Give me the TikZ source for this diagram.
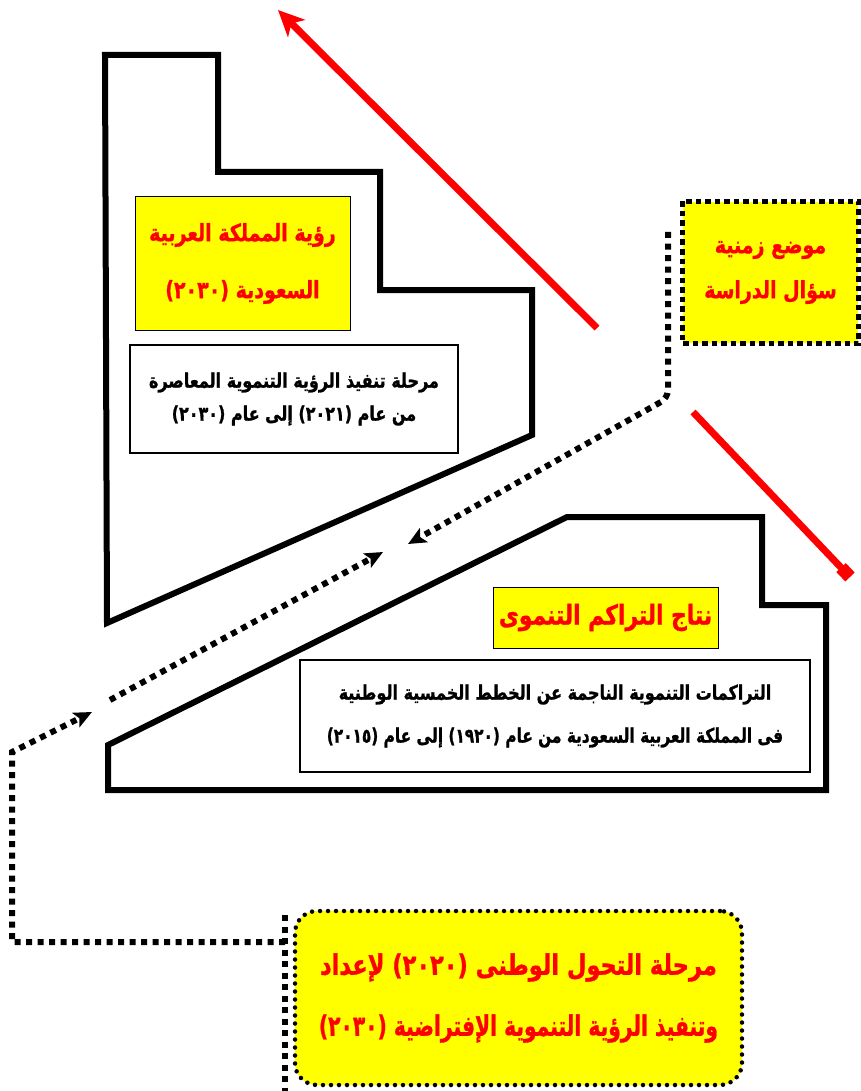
\documentclass[tikz,border=0pt]{standalone}
\usepackage{fontspec}
\usepackage{graphicx}
\usetikzlibrary{arrows.meta}
\newfontfamily\arabicfont[Script=Arabic, BoldFeatures={FakeBold=1.2}]{DejaVu Sans}
\TeXXeTstate=1
% one right-to-left line, set a little taller than the font's own shapes;
% the optional argument narrows a long line
\newcommand{\rtl}[2][1]{\scalebox{#1}[1.25]{\beginR #2\endR}}
\definecolor{boxyellow}{RGB}{255,255,0}
\definecolor{arrowred}{RGB}{255,0,0}

\begin{document}
\begin{tikzpicture}[x=1pt,y=-1pt,
  frame/.style={draw=black, line width=6pt, line join=miter},
  titlebox/.style={draw=black, line width=1pt, fill=boxyellow, text=arrowred,
    align=center, inner sep=0pt},
  notebox/.style={draw=black, line width=1.3pt, fill=white, text=black,
    align=center, inner sep=0pt},
  squaredots/.style={draw=black, line width=6pt, dash pattern=on 6pt off 5.5pt},
  tipblack/.style={-{Stealth[length=18pt,width=16pt,inset=4pt]}},
  redarrow/.style={draw=arrowred, line width=7pt},
]
\useasboundingbox (0,0) rectangle (861,1091);

% outline frames
\draw[frame] (105,55) -- (218,55) -- (218,172) -- (380,172) -- (380,290)
  -- (532,290) -- (532,435) -- (107,623) -- cycle;
\draw[frame] (108,745) -- (567,517) -- (762,517) -- (762,605) -- (826,605)
  -- (826,790) -- (108,790) -- cycle;

% upper block
\node[titlebox, minimum width=215pt, minimum height=133pt,
  font=\arabicfont\bfseries\fontsize{19}{57}\selectfont] (vision) at (242.5,263.5)
  {\rtl{رؤية المملكة العربية}\\\rtl{السعودية (٢٠٣٠)}};
\node[notebox, minimum width=328pt, minimum height=108pt,
  font=\arabicfont\bfseries\fontsize{16}{33}\selectfont] (visionnote) at (294,399)
  {\rtl{مرحلة تنفيذ الرؤية التنموية المعاصرة}\\\rtl{من عام (٢٠٢١) إلى عام (٢٠٣٠)}};

% question box
\node[titlebox, draw=none, minimum width=175pt, minimum height=141pt,
  font=\arabicfont\bfseries\fontsize{19}{45}\selectfont] (question) at (770.5,272.5)
  {\rtl{موضع زمنية}\\\rtl{سؤال الدراسة}};
\draw[squaredots, line width=5.5pt, dash pattern=on 5.5pt off 4pt]
  (question.north west) rectangle (question.south east);

% lower block
\node[titlebox, minimum width=225pt, minimum height=61pt,
  font=\arabicfont\bfseries\fontsize{21.8}{24}\selectfont] (accum) at (605.5,617.5)
  {\rtl{نتاج التراكم التنموى}};
\node[notebox, minimum width=510pt, minimum height=112pt,
  font=\arabicfont\bfseries\fontsize{16}{43}\selectfont] (accumnote) at (555,716)
  {\rtl{التراكمات التنموية الناجمة عن الخطط الخمسية الوطنية}\\\rtl[0.96]{فى المملكة العربية السعودية من عام (١٩٢٠) إلى عام (٢٠١٥)}};

% transition stage
\node[titlebox, draw=black, line width=4.5pt, line cap=round,
  dash pattern=on 0pt off 8pt, rounded corners=22pt,
  minimum width=447pt, minimum height=174pt,
  font=\arabicfont\bfseries\fontsize{22.5}{61}\selectfont] (transition) at (518.5,998)
  {\rtl{مرحلة التحول الوطنى (٢٠٢٠) لإعداد}\\\rtl[0.9]{وتنفيذ الرؤية التنموية الإفتراضية (٢٠٣٠)}};

% connector points
\coordinate (a0) at (285,915);
\coordinate (a1) at (285,1091);
\coordinate (l1) at (285,942);
\coordinate (l2) at (12,942);
\coordinate (l3) at (12,752);
\coordinate (l4) at (92,712);
\coordinate (b0) at (110,700);
\coordinate (b1) at (383,552);
\coordinate (c0) at (668,232);
\coordinate (c1) at (668,398);
\coordinate (c2) at (408,544);
\coordinate (r1s) at (597,328);
\coordinate (r1e) at (278,10);
\coordinate (r2s) at (693,412);
\coordinate (r2e) at (850,577);

% dotted connectors
\draw[squaredots] (a0) -- (a1);
\draw[squaredots, tipblack] (l1) -- (l2) -- (l3) -- (l4);
\draw[squaredots, tipblack] (b0) -- (b1);
\draw[squaredots, tipblack, rounded corners=8pt] (c0) -- (c1) -- (c2);

% red arrows
\draw[redarrow, -{Stealth[length=26pt,width=24pt,inset=7pt]}] (r1s) -- (r1e);
\draw[redarrow, -{Square[length=13pt,width=13pt]}] (r2s) -- (r2e);
\end{tikzpicture}
\end{document}
